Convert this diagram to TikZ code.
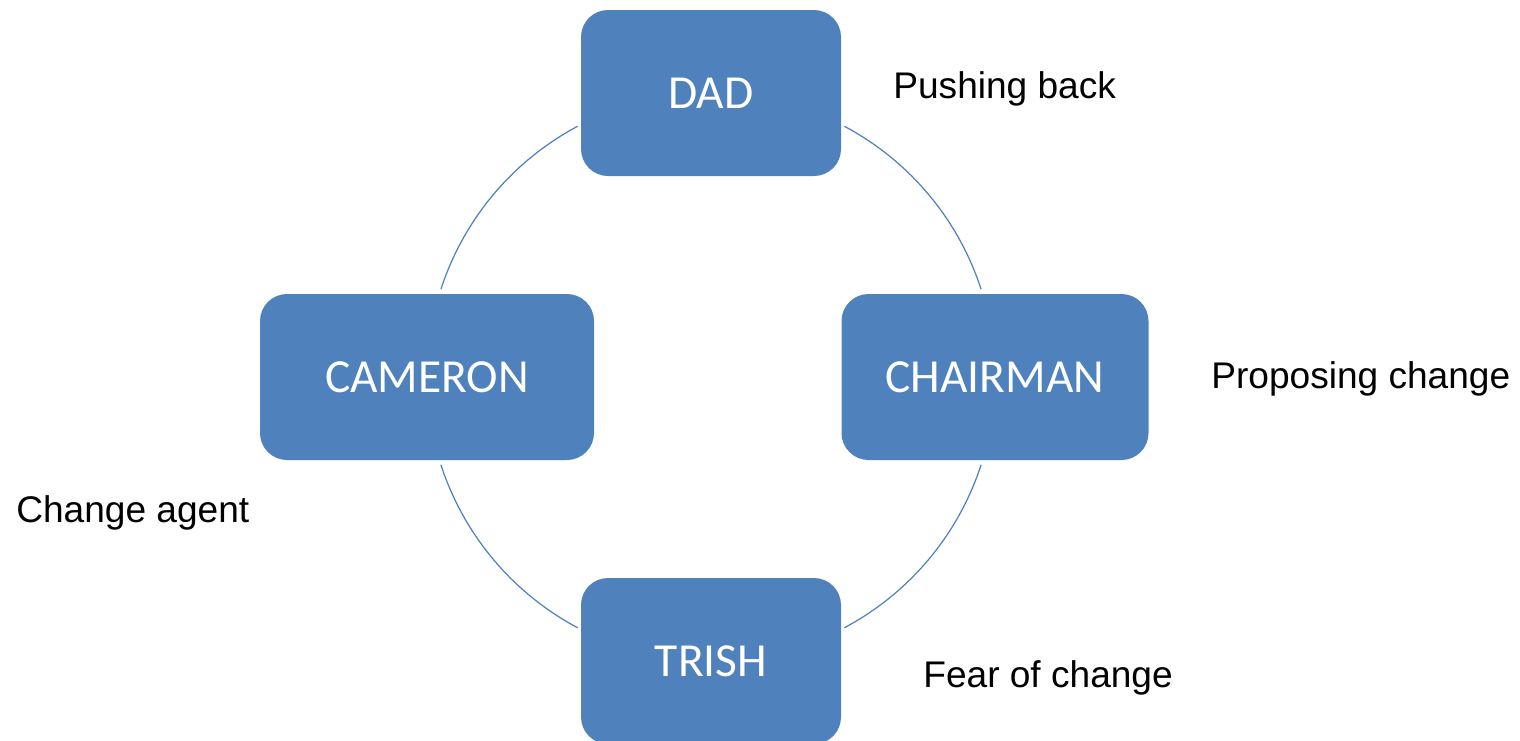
\documentclass[tikz,border=0pt]{standalone}
\usepackage{fontspec}
\setmainfont{Liberation Sans}
\newfontfamily\boxfont{Carlito}
\usepackage{xcolor}
\definecolor{officeblue}{HTML}{4F81BD}
\usetikzlibrary{calc,positioning}

\begin{document}
\begin{tikzpicture}[
  role/.style={fill=officeblue,rounded corners=0.54cm,minimum width=5.2cm,minimum height=3.32cm,
    text=white,font=\boxfont\fontsize{27}{32}\selectfont,inner sep=0pt},
  link/.style={officeblue,line width=0.7pt},
  note/.style={anchor=base west,inner sep=0pt,font=\fontsize{21.1}{26}\selectfont}]
\useasboundingbox(0,0)rectangle(30.4,-14.8);
\coordinate(c)at(14.22,-7.54);
\node[role](dad)at($(c)+(0,5.68)$){DAD};
\node[role,minimum width=6.14cm](chair)at($(c)+(5.68,0)$){CHAIRMAN};
\node[role](trish)at($(c)+(0,-5.68)$){TRISH};
\node[role,minimum width=6.68cm](cam)at($(c)+(-5.68,0)$){CAMERON};
\draw[link]($(c)+(18:5.68)$)arc[start angle=18,end angle=62,radius=5.68cm];
\draw[link]($(c)+(118:5.68)$)arc[start angle=118,end angle=162,radius=5.68cm];
\draw[link]($(c)+(198:5.68)$)arc[start angle=198,end angle=242,radius=5.68cm];
\draw[link]($(c)+(298:5.68)$)arc[start angle=298,end angle=342,radius=5.68cm];
\node[note](push)at(17.86,-1.96){Pushing back};
\node[note](prop)at(24.22,-7.76){Proposing change};
\node[note](fear)at(18.46,-13.74){Fear of change};
\node[note](agent)at(0.32,-10.44){Change agent};
\end{tikzpicture}
\end{document}
